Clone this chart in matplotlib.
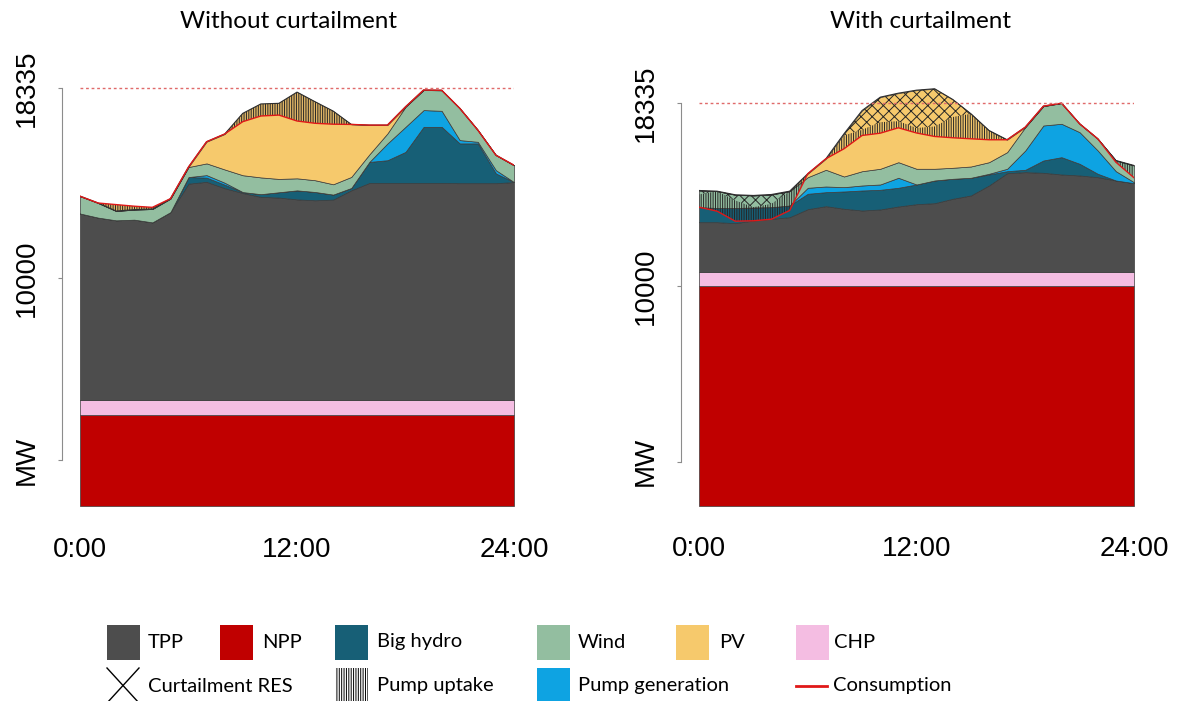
import numpy as np
import matplotlib
matplotlib.use("Agg")
import matplotlib.pyplot as plt
from matplotlib.patches import Rectangle
from matplotlib.lines import Line2D

# ---------------- data (MW, hourly 0:00 .. 24:00) ----------------
hours = list(range(25))
xtick_pos = [0, 12, 24]
xtick_labels = ["0:00", "12:00", "24:00"]
ytick_pos = [2000, 10000, 18335]
ytick_labels = ["MW", "10000", "18335"]
ref_level = 18335

# Without curtailment
npp_l = [4000, 4000, 4000, 4000, 4000, 4000, 4000, 4000, 4000, 4000, 4000, 4000, 4000,
         4000, 4000, 4000, 4000, 4000, 4000, 4000, 4000, 4000, 4000, 4000, 4000]
chp_l = [650, 650, 650, 650, 650, 650, 650, 650, 650, 650, 650, 650, 650,
         650, 650, 650, 650, 650, 650, 650, 650, 650, 650, 650, 650]
tpp_l = [8190, 8010, 7890, 7920, 7800, 8250, 9500, 9580, 9300, 9090, 8920, 8890, 8810,
         8770, 8800, 9210, 9530, 9530, 9530, 9530, 9530, 9520, 9520, 9520, 9570]
hydro_l = [0, 0, 0, 0, 0, 0, 290, 185, 154, 40, 119, 233, 396,
           365, 220, 100, 924, 999, 1364, 2464, 2464, 1747, 1747, 427, 0]
pumpgen_l = [0, 0, 0, 0, 0, 0, 0, 110, 88, 0, 0, 0, 0,
             0, 0, 0, 0, 735, 1100, 735, 704, 145, 70, 145, 0]
wind_l = [761, 642, 409, 440, 585, 590, 440, 515, 581, 740, 735, 585, 528,
          515, 453, 485, 330, 440, 880, 880, 900, 1395, 515, 660, 735]
pv_l = [0, 0, 0, 0, 0, 0, 0, 950, 1553, 2715, 3225, 3318, 3784,
        3445, 3212, 2306, 1285, 365, 0, 0, 0, 0, 0, 0, 0]
curt_l = [0, 0, 0, 0, 0, 0, 0, 0, 0, 0, 0, 0, 0,
          0, 0, 0, 0, 0, 0, 0, 0, 0, 0, 0, 0]
cons_l = [13600, 13300, 13230, 13160, 13110, 13490, 14880, 15990, 16330, 16870, 17120, 17160, 16900,
          16800, 16760, 16750, 16720, 16720, 17520, 18260, 18250, 17460, 16500, 15400, 14960]

# With curtailment
npp_r = [10000, 10000, 10000, 10000, 10000, 10000, 10000, 10000, 10000, 10000, 10000, 10000, 10000,
         10000, 10000, 10000, 10000, 10000, 10000, 10000, 10000, 10000, 10000, 10000, 10000]
chp_r = [640, 640, 640, 640, 640, 640, 640, 640, 640, 640, 640, 640, 640,
         640, 640, 640, 640, 640, 640, 640, 640, 640, 640, 640, 640]
tpp_r = [2264, 2264, 2219, 2342, 2419, 2492, 2857, 2993, 2875, 2797, 2843, 2979, 3084,
         3130, 3330, 3481, 3936, 4496, 4542, 4514, 4437, 4392, 4314, 4164, 4041]
hydro_r = [684, 647, 692, 592, 529, 533, 701, 638, 788, 911, 897, 852, 898,
           1034, 911, 806, 501, 91, 109, 561, 788, 532, 155, 0, 0]
pumpgen_r = [0, 0, 0, 0, 0, 0, 273, 259, 196, 228, 242, 456, 0,
             0, 0, 0, 32, 110, 879, 1594, 1521, 1440, 1061, 423, 45]
wind_r = [760, 765, 601, 547, 578, 651, 483, 761, 487, 651, 715, 710, 715,
          533, 501, 514, 528, 756, 1062, 880, 940, 382, 533, 488, 761]
pv_r = [0, 0, 0, 0, 0, 0, 155, 501, 1945, 2765, 3261, 3143, 3580,
        3644, 3111, 2401, 1444, 565, 0, 0, 0, 0, 0, 0, 0]
curt_r = [180, 0, 259, 533, 424, 0, 0, 0, 77, 879, 1139, 1275, 1722,
          1718, 797, 0, 0, 0, 0, 0, 0, 0, 0, 0, 0]
cons_r = [13588, 13405, 12950, 12968, 13041, 13437, 15109, 15792, 16248, 16854, 16958, 17204, 16967,
          16808, 16749, 16703, 16658, 16658, 17232, 18189, 18326, 17386, 16703, 15637, 14927]

titles = ["Without curtailment", "With curtailment"]
legend_row1 = ["TPP", "NPP", "Big hydro", "Wind", "PV", "CHP"]
legend_row2 = ["Curtailment RES", "Pump uptake", "Pump generation", "Consumption"]

# ---------------- style ----------------
C_TPP = "#4d4d4d"
C_NPP = "#c00000"
C_HYDRO = "#175f76"
C_WIND = "#93bea0"
C_PV = "#f6c96c"
C_CHP = "#f4bde2"
C_PGEN = "#0ea3e2"
C_CONS = "#e01818"

plt.rcParams["font.family"] = ["Liberation Sans", "DejaVu Sans"]
plt.rcParams["hatch.color"] = "#262626"
plt.rcParams["hatch.linewidth"] = 0.7

W, H = 1183, 701
fig = plt.figure(figsize=(W / 100, H / 100), dpi=100)


def rect(x0, x1, ytop, ybot):
    return [x0 / W, 1 - ybot / H, (x1 - x0) / W, (ybot - ytop) / H]


panels = [
    dict(pos=rect(80, 514, 80, 506), ymax=18700, uptake_face="#e2b766",
         layers=(npp_l, chp_l, tpp_l, hydro_l, pumpgen_l, wind_l, pv_l),
         curt=curt_l, cons=cons_l, title=titles[0], tx=289),
    dict(pos=rect(699, 1134, 80, 505.5), ymax=19380, uptake_face="none",
         layers=(npp_r, chp_r, tpp_r, hydro_r, pumpgen_r, wind_r, pv_r),
         curt=curt_r, cons=cons_r, title=titles[1], tx=920),
]

x = np.array(hours, dtype=float)
for p in panels:
    ax = fig.add_axes(p["pos"])
    layers = [np.array(l, dtype=float) for l in p["layers"]]
    ax.stackplot(x, *layers,
                 colors=[C_NPP, C_CHP, C_TPP, C_HYDRO, C_PGEN, C_WIND, C_PV],
                 edgecolor="#3a3a3a", linewidth=0.5, zorder=1)
    top = np.sum(layers, axis=0)
    curt = np.array(p["curt"], dtype=float)
    cons = np.array(p["cons"], dtype=float)
    # pump uptake (vertical hatch) between consumption and generation minus curtailment
    ax.fill_between(x, cons, top - curt, facecolor=p["uptake_face"], edgecolor="#262626",
                    linewidth=0, hatch="|||||||", zorder=2)
    # curtailment (cross hatch)
    ax.fill_between(x, top - curt, top, facecolor="none", edgecolor="#262626",
                    linewidth=0, hatch="xxx", zorder=2)
    ax.plot(x, top, color="#2e2e2e", lw=0.8, zorder=3)
    ax.plot(x, cons, color=C_CONS, lw=1.0, zorder=4)
    ax.axhline(ref_level, color="#e06a6a", lw=1.0, ls=(0, (2, 2)), zorder=5)

    ax.set_xlim(0, 24)
    ax.set_ylim(0, p["ymax"])
    for s in ("top", "right", "bottom"):
        ax.spines[s].set_visible(False)
    ax.spines["left"].set_position(("outward", 13))
    ax.spines["left"].set_bounds(ytick_pos[0], ytick_pos[-1])
    ax.spines["left"].set_color("#8c8c8c")
    ax.set_xticks(xtick_pos)
    ax.set_xticklabels(xtick_labels)
    ax.set_yticks(ytick_pos)
    ax.set_yticklabels(ytick_labels)
    ax.tick_params(axis="x", length=0, pad=22, labelsize=20)
    ax.tick_params(axis="y", length=3, color="#8c8c8c", pad=13, labelsize=20, labelrotation=90)
    for lbl in ax.get_yticklabels():
        lbl.set_va("center")
    ax.patch.set_alpha(0)
    fig.text(p["tx"] / W, 1 - 22 / H, p["title"], ha="center", va="center",
             fontsize=17.5, family=["Lato", "DejaVu Sans"])

# ---------------- legend (drawn in figure pixel space) ----------------
lg = fig.add_axes([0, 0, 1, 1], zorder=-1)
lg.set_xlim(0, W)
lg.set_ylim(H, 0)
lg.axis("off")

row1 = [(107, C_TPP, 148), (220, C_NPP, 262), (335, C_HYDRO, 377),
        (537, C_WIND, 578), (676, C_PV, 719), (796, C_CHP, 834)]
for (px, col, tx), lab in zip(row1, legend_row1):
    lg.add_patch(Rectangle((px, 625), 33, 35, facecolor=col, edgecolor="none"))
    lg.text(tx, 642, lab, ha="left", va="center", fontsize=14.5, family=["Lato", "DejaVu Sans"])

y2a, y2b = 668, 703
lg.add_line(Line2D([107, 139], [y2a, y2b], color="black", lw=1))
lg.add_line(Line2D([139, 107], [y2a, y2b], color="black", lw=1))
lg.add_patch(Rectangle((335, y2a), 33, y2b - y2a, facecolor="white", edgecolor="black",
                       linewidth=0, hatch="|||||||"))
lg.add_patch(Rectangle((537, y2a), 33, y2b - y2a, facecolor=C_PGEN, edgecolor="none"))
lg.add_line(Line2D([796, 827], [686, 686], color=C_CONS, lw=2))
for tx, lab in zip([148, 377, 578, 833], legend_row2):
    lg.text(tx, 686, lab, ha="left", va="center", fontsize=14.5, family=["Lato", "DejaVu Sans"])

fig.savefig("out.png", dpi=100)
